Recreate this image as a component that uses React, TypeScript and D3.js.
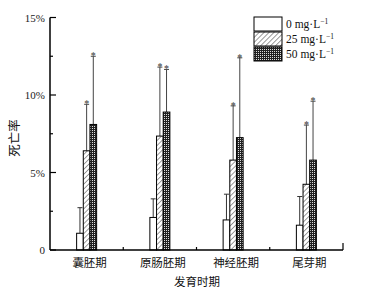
import React from "react";
import * as d3 from "d3";

const categories = ["囊胚期", "原肠胚期", "神经胚期", "尾芽期"];
const seriesNames = ["0 mg·L", "25 mg·L", "50 mg·L"];
const means0 = [1.08, 2.1, 1.94, 1.6];
const errs0 = [2.73, 3.3, 3.6, 3.45];
const means25 = [6.4, 7.35, 5.8, 4.24];
const errs25 = [9.4, 11.8, 9.3, 8.06];
const means50 = [8.1, 8.9, 7.25, 5.8];
const errs50 = [12.5, 11.65, 12.4, 9.6];
const stars0 = [false, false, false, false];
const stars25 = [true, true, true, true];
const stars50 = [true, true, true, true];
const yTicks = [0, 5, 10, 15];
const yMinorTicks = [2.5, 7.5, 12.5];

const FONT = "'Liberation Serif', 'Noto Sans CJK SC', serif";

export default function App() {
  const x0 = 50, x1 = 343, yTop = 17.5, yBase = 250;
  const x = d3.scaleBand<string>().domain(categories).range([x0, x1]);
  const y = d3.scaleLinear().domain([0, 15]).range([yBase, yTop]);
  const sub = d3.scaleBand<number>().domain([0, 1, 2]).range([-10, 10]);
  const series = [
    { means: means0, errs: errs0, stars: stars0, fill: "#fff", ecol: "#333" },
    { means: means25, errs: errs25, stars: stars25, fill: "url(#hatch)", ecol: "#444" },
    { means: means50, errs: errs50, stars: stars50, fill: "url(#dots)", ecol: "#444" },
  ];
  const fills = series.map((s) => s.fill);
  return (
    <svg width={369} height={298} style={{ position: "absolute", left: 0, top: 0, background: "#fff" }}>
      <defs>
        <pattern id="hatch" patternUnits="userSpaceOnUse" width={3.5} height={3.5} patternTransform="rotate(45)">
          <rect width={3.5} height={3.5} fill="#fff" />
          <line x1={0} y1={0} x2={0} y2={3.5} stroke="#222" strokeWidth={0.9} />
        </pattern>
        <pattern id="dots" patternUnits="userSpaceOnUse" width={2} height={2}>
          <rect width={2} height={2} fill="#222" />
          <rect width={1} height={1} fill="#ddd" />
        </pattern>
      </defs>
      {series.map((s, si) =>
        categories.map((c, ci) => {
          const cx = (x(c) as number) + x.bandwidth() / 2;
          const bx = cx + (sub(si) as number);
          const bw = sub.bandwidth();
          const mid = bx + bw / 2;
          return (
            <g key={`${si}-${ci}`}>
              <line x1={mid} x2={mid} y1={y(s.means[ci])} y2={y(s.errs[ci])} stroke={s.ecol} strokeWidth={1} />
              <line x1={mid - 2.5} x2={mid + 2.5} y1={y(s.errs[ci])} y2={y(s.errs[ci])} stroke={s.ecol} strokeWidth={1} />
              <rect x={bx} y={y(s.means[ci])} width={bw} height={yBase - y(s.means[ci])} fill={s.fill} stroke="#000" strokeWidth={1} />
              {s.stars[ci] && (
                <text x={mid} y={y(s.errs[ci]) + 3} fontSize={10} textAnchor="middle" fontFamily={FONT} fill="#333">*</text>
              )}
            </g>
          );
        })
      )}
      <line x1={x0} x2={x0} y1={yTop} y2={yBase} stroke="#000" strokeWidth={1.5} />
      <line x1={x0} x2={x1} y1={yBase} y2={yBase} stroke="#000" strokeWidth={1.5} />
      {yTicks.map((t) => (
        <g key={t}>
          <line x1={x0} x2={x0 + 6} y1={y(t)} y2={y(t)} stroke="#000" strokeWidth={1.2} />
          <text x={x0 - 5} y={y(t) + 4} fontSize={11} textAnchor="end" fontFamily={FONT} fill="#222">
            {t === 0 ? "0" : `${t}%`}
          </text>
        </g>
      ))}
      {yMinorTicks.map((t) => (
        <line key={t} x1={x0} x2={x0 + 3} y1={y(t)} y2={y(t)} stroke="#000" strokeWidth={1.2} />
      ))}
      {categories.map((c, i) => (
        <g key={c}>
          {i > 0 && <line x1={x(c)} x2={x(c)} y1={yBase} y2={yBase - 3} stroke="#000" strokeWidth={1.2} />}
          <text x={(x(c) as number) + x.bandwidth() / 2 + 3} y={yBase + 17} fontSize={11.5} textAnchor="middle" fontFamily={FONT} fill="#111">{c}</text>
        </g>
      ))}
      <line x1={x1} x2={x1} y1={yBase} y2={yBase - 7} stroke="#000" strokeWidth={1.2} />
      <text x={197} y={286} fontSize={11.5} textAnchor="middle" fontFamily={FONT} fill="#111">发育时期</text>
      <text transform={`translate(19,138) rotate(-90)`} fontSize={12.5} textAnchor="middle" fontFamily={FONT} fill="#111">死亡率</text>
      {seriesNames.map((n, i) => (
        <g key={n} transform={`translate(254,${17 + i * 15})`}>
          <rect x={0} y={0} width={28} height={14} fill={fills[i]} stroke="#000" strokeWidth={1} />
          <text x={32} y={11} fontSize={11.5} fontFamily={FONT} fill="#111">
            {n}
            <tspan dy={-4} fontSize={7.5}>−1</tspan>
          </text>
        </g>
      ))}
    </svg>
  );
}
